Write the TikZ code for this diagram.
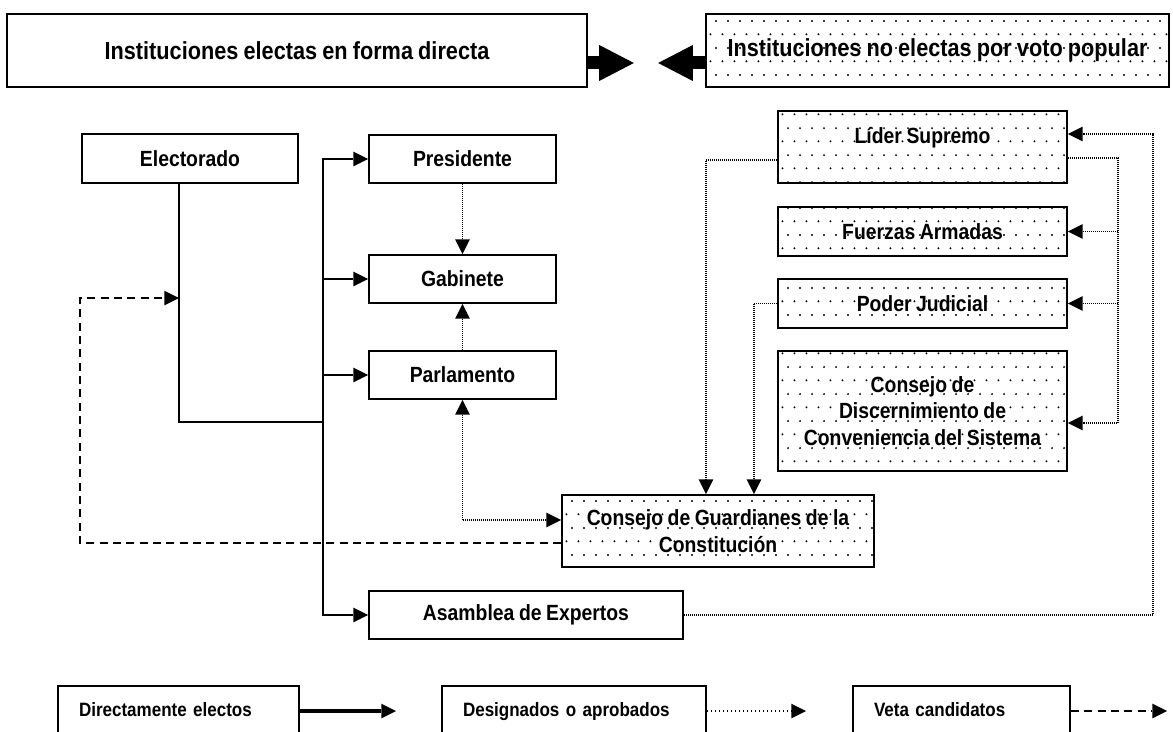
\documentclass[tikz,border=0pt]{standalone}
\usepackage{fontspec}
\setmainfont{Liberation Sans}[FakeStretch=0.88, WordSpace=0.85]
\usetikzlibrary{positioning,calc,arrows.meta,patterns.meta}

% sparse dot fill of the non-elected boxes
\tikzdeclarepattern{
  name=puntosRalos,
  type=uncolored,
  bounding box={(0pt,0pt) and (9pt,20pt)},
  tile size={(9pt,20pt)},
  code={
    \pgfpathcircle{\pgfqpoint{2pt}{2pt}}{0.85pt}
    \pgfpathcircle{\pgfqpoint{6.5pt}{12pt}}{0.85pt}
    \pgfusepath{fill}
  }
}

\tikzset{
  caja/.style={draw, line width=1.3pt, align=center, inner sep=3pt,
    font=\fontsize{16.5}{20}\selectfont\bfseries},
  puntos/.style={pattern=puntosRalos, pattern color=black},
  titulo/.style={caja, minimum height=54.75pt,
    font=\fontsize{18.5}{22}\selectfont\bfseries},
  leyenda/.style={draw, line width=1.3pt, align=left, inner xsep=15.75pt,
    minimum height=37.5pt, text height=11pt, text depth=3pt,
    font=\fontsize{14.5}{17}\selectfont\bfseries},
  directo/.style={line width=1.3pt},
  designa/.style={line width=0.9pt, dash pattern=on 0.75pt off 0.75pt},
  veta/.style={line width=1.3pt, dash pattern=on 6pt off 4pt},
  bloque/.style={line width=9.75pt,
    -{Triangle[length=26pt,width=27pt,line width=0pt]}},
  >={Triangle[length=11pt,width=11pt,line width=0pt]}
}

\begin{document}
\begin{tikzpicture}[x=0.75pt, y=-0.75pt]
\useasboundingbox (0,0) rectangle (1173,731);

%% titles ============================================================
\node[titulo, minimum width=435pt] (directas) at (297, 50.5)
  {Instituciones electas en forma directa};
\node[titulo, puntos, minimum width=347.25pt] (noElectas) at (937.5, 50.5)
  {Instituciones no electas por voto popular};
\draw[bloque] ($(directas.east)+(0,12.5)$) -- ++(46,0);
\draw[bloque] ($(noElectas.west)+(0,12.5)$) -- ++(-47,0);

%% elected side ======================================================
\node[caja, minimum width=162pt, minimum height=36.75pt]
  (electorado) at (190, 158.5) {Electorado};
\node[caja, minimum width=140.25pt, minimum height=36pt]
  (presidente) at (462.5, 159) {Presidente};
\node[caja, minimum width=140.25pt, minimum height=36pt]
  (gabinete) at (462.5, 279) {Gabinete};
\node[caja, minimum width=140.25pt, minimum height=36pt]
  (parlamento) at (462.5, 375) {Parlamento};
\node[caja, minimum width=235.5pt, minimum height=36pt]
  (asamblea) at (526, 615) {Asamblea de Expertos};

%% non-elected side ==================================================
\node[caja, puntos, minimum width=216.75pt, minimum height=54pt,
      text height=12pt, text depth=18pt]
  (lider) at (922.5, 147) {Líder Supremo};
\node[caja, puntos, minimum width=216.75pt, minimum height=36.75pt]
  (fuerzas) at (922.5, 231.5) {Fuerzas Armadas};
\node[caja, puntos, minimum width=216.75pt, minimum height=36.75pt]
  (poder) at (922.5, 303.5) {Poder Judicial};
\node[caja, puntos, minimum width=216.75pt, minimum height=90pt]
  (discern) at (922.5, 411)
  {Consejo de\\Discernimiento de\\Conveniencia del Sistema};
\node[caja, puntos, minimum width=234pt, minimum height=54pt]
  (guardianes) at (718, 531)
  {Consejo de Guardianes de la\\Constitución};

%% directly elected (solid) ==========================================
\coordinate (bus) at (323, 422);
\draw[directo] ($(electorado.south)+(-11,0)$) |- (bus);
\draw[directo, ->] (bus) |- (presidente.west);
\draw[directo, ->] (bus |- gabinete.west) -- (gabinete.west);
\draw[directo, ->] (bus |- parlamento.west) -- (parlamento.west);
\draw[directo, ->] (bus) |- (asamblea.west);

%% appointed or approved (dotted) ====================================
\draw[designa, ->] (presidente.south) -- (gabinete.north);
\draw[designa, ->] (parlamento.north) -- (gabinete.south);
\draw[designa, <->] (parlamento.south) |- ($(guardianes.west)+(0,-11)$);
\draw[designa, ->] ($(lider.west)+(0,13)$) -| ($(guardianes.north)+(-12,0)$);
\draw[designa, ->] (poder.west) -| ($(guardianes.north)+(36,0)$);
\coordinate (ramal) at (1118, 423);
\draw[designa, ->] ($(lider.east)+(0,11)$) -| (ramal) -- (ramal -| discern.east);
\draw[designa, ->] (ramal |- fuerzas.east) -- (fuerzas.east);
\draw[designa, ->] (ramal |- poder.east) -- (poder.east);
\coordinate (extremo) at (1153, 134);
\draw[designa, ->] (asamblea.east) -| (extremo) -- (extremo -| lider.east);

%% vetoes candidates (dashed) ========================================
\coordinate (vetaEsq) at (80, 298);
\coordinate (vetaFin) at (179, 298);
\draw[veta, ->] ($(guardianes.west)+(0,12)$) -| (vetaEsq) -- (vetaFin);

%% legend ============================================================
\node[leyenda, minimum width=180.75pt, text width=149.25pt]
  (leyDirecto) at (178.5, 711) {Directamente electos};
\node[leyenda, minimum width=198pt, text width=166.5pt]
  (leyDesigna) at (574, 711) {Designados o aprobados};
\node[leyenda, minimum width=162.75pt, text width=131.25pt]
  (leyVeta) at (961.5, 711) {Veta candidatos};
\coordinate (finDirecto) at (396, 711);
\coordinate (finDesigna) at (806, 711);
\coordinate (finVeta) at (1167, 711);
\draw[directo, line width=2.6pt, ->] (leyDirecto.east) -- (finDirecto);
\draw[designa, line width=1.3pt, dash pattern=on 1.2pt off 1.8pt, ->]
  (leyDesigna.east) -- (finDesigna);
\draw[veta, line width=1.6pt, ->] (leyVeta.east) -- (finVeta);

\end{tikzpicture}
\end{document}
